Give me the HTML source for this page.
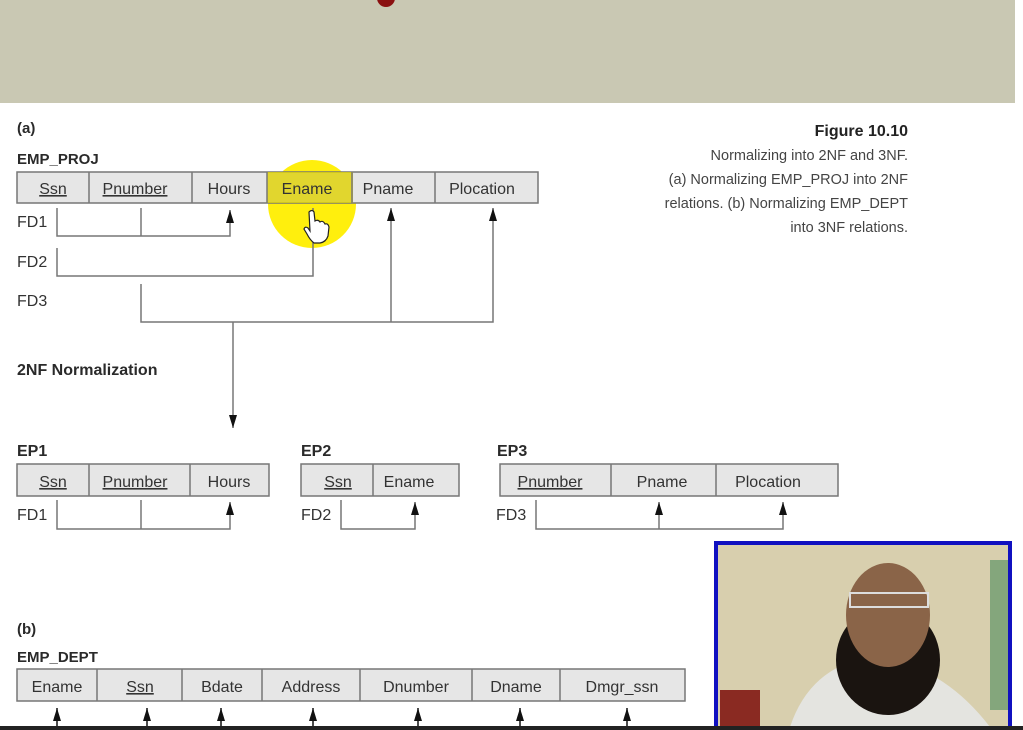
<!DOCTYPE html>
<html><head><style>
html,body{margin:0;padding:0;background:#fff;}
svg{display:block;}
text{font-family:"Liberation Sans",Arial,sans-serif;fill:#2a2a2a;}
.c{font-size:16px;text-anchor:middle;fill:#333;}
.b{font-weight:bold;font-size:16px;}
.fd{font-size:16px;fill:#333;}
.cap{font-size:14.5px;text-anchor:end;fill:#444;}
</style></head><body>
<svg width="1023" height="730" viewBox="0 0 1023 730">
<defs>
<marker id="ar" markerWidth="8" markerHeight="14" refX="4" refY="0" orient="0" markerUnits="userSpaceOnUse">
<path d="M0,13 L4,0 L8,13 Z" fill="#111"/></marker>
<marker id="dn" markerWidth="8" markerHeight="14" refX="4" refY="13" orient="0" markerUnits="userSpaceOnUse">
<path d="M0,0 L4,13 L8,0 Z" fill="#111"/></marker>
</defs>
<rect x="0" y="0" width="1023" height="103" fill="#c9c8b3"/>
<circle cx="386" cy="-2" r="9" fill="#8a1010"/>
<rect x="1015" y="0" width="8" height="730" fill="#fff"/>

<text x="17" y="133" class="b" style="font-size:15px">(a)</text>
<text x="17" y="164" class="b" style="font-size:15px">EMP_PROJ</text>

<circle cx="312" cy="204" r="44" fill="#ffee00" opacity="0.95"/>

<g stroke="#777" stroke-width="1.5" fill="#e6e6e6">
<rect x="17" y="172" width="521" height="31"/>
<rect x="17" y="464" width="252" height="32"/>
<rect x="301" y="464" width="158" height="32"/>
<rect x="500" y="464" width="338" height="32"/>
<rect x="17" y="669" width="668" height="32"/>
</g>
<rect x="267" y="172" width="86" height="31" fill="#e0d200" opacity="0.8"/>
<g stroke="#777" stroke-width="1.5">
<line x1="89" y1="172" x2="89" y2="203"/><line x1="192" y1="172" x2="192" y2="203"/>
<line x1="267" y1="172" x2="267" y2="203"/><line x1="352" y1="172" x2="352" y2="203"/>
<line x1="435" y1="172" x2="435" y2="203"/>
<line x1="89" y1="464" x2="89" y2="496"/><line x1="190" y1="464" x2="190" y2="496"/>
<line x1="373" y1="464" x2="373" y2="496"/>
<line x1="611" y1="464" x2="611" y2="496"/><line x1="716" y1="464" x2="716" y2="496"/>
<line x1="97" y1="669" x2="97" y2="701"/><line x1="182" y1="669" x2="182" y2="701"/>
<line x1="262" y1="669" x2="262" y2="701"/><line x1="360" y1="669" x2="360" y2="701"/>
<line x1="472" y1="669" x2="472" y2="701"/><line x1="560" y1="669" x2="560" y2="701"/>
</g>

<text x="53" y="194" class="c" text-decoration="underline">Ssn</text>
<text x="135" y="194" class="c" text-decoration="underline">Pnumber</text>
<text x="229" y="194" class="c">Hours</text>
<text x="307" y="194" class="c">Ename</text>
<text x="388" y="194" class="c">Pname</text>
<text x="482" y="194" class="c">Plocation</text>

<text x="17" y="227" class="fd">FD1</text>
<text x="17" y="267" class="fd">FD2</text>
<text x="17" y="306" class="fd">FD3</text>

<g stroke="#777" stroke-width="1.5" fill="none">
<polyline points="57,208 57,236 230,236 230,210" marker-end="url(#ar)"/>
<line x1="141" y1="208" x2="141" y2="236"/>
<polyline points="57,248 57,276 313,276 313,208"/>
<polyline points="141,284 141,322 493,322 493,208" marker-end="url(#ar)"/>
<line x1="391" y1="322" x2="391" y2="208" marker-end="url(#ar)"/>
<line x1="233" y1="322" x2="233" y2="428" marker-end="url(#dn)"/>
<polyline points="57,500 57,529 230,529 230,502" marker-end="url(#ar)"/>
<line x1="141" y1="500" x2="141" y2="529"/>
<polyline points="341,500 341,529 415,529 415,502" marker-end="url(#ar)"/>
<polyline points="536,500 536,529 783,529 783,502" marker-end="url(#ar)"/>
<line x1="659" y1="529" x2="659" y2="502" marker-end="url(#ar)"/>
</g>
<path d="M309,212 q3,-3 5,0 l1,9 q3,-2 5,1 q3,-2 5,2 q3,-1 4,3 l-1,9 q-2,6 -8,7 l-6,0 q-4,-3 -7,-9 l-3,-5 q1,-3 4,-1 l2,3 z" fill="#fff" stroke="#222" stroke-width="1.2"/>

<text x="17" y="375" class="b">2NF Normalization</text>

<text x="17" y="456" class="b">EP1</text>
<text x="301" y="456" class="b">EP2</text>
<text x="497" y="456" class="b">EP3</text>

<text x="53" y="487" class="c" text-decoration="underline">Ssn</text>
<text x="135" y="487" class="c" text-decoration="underline">Pnumber</text>
<text x="229" y="487" class="c">Hours</text>
<text x="338" y="487" class="c" text-decoration="underline">Ssn</text>
<text x="409" y="487" class="c">Ename</text>
<text x="550" y="487" class="c" text-decoration="underline">Pnumber</text>
<text x="662" y="487" class="c">Pname</text>
<text x="768" y="487" class="c">Plocation</text>

<text x="17" y="520" class="fd">FD1</text>
<text x="301" y="520" class="fd">FD2</text>
<text x="496" y="520" class="fd">FD3</text>

<text x="17" y="634" class="b" style="font-size:15px">(b)</text>
<text x="17" y="662" class="b" style="font-size:15px">EMP_DEPT</text>
<text x="57" y="692" class="c">Ename</text>
<text x="140" y="692" class="c" text-decoration="underline">Ssn</text>
<text x="222" y="692" class="c">Bdate</text>
<text x="311" y="692" class="c">Address</text>
<text x="416" y="692" class="c">Dnumber</text>
<text x="516" y="692" class="c">Dname</text>
<text x="622" y="692" class="c">Dmgr_ssn</text>
<g stroke="#111" stroke-width="1.5">
<line x1="57" y1="726" x2="57" y2="708" marker-end="url(#ar)"/>
<line x1="147" y1="726" x2="147" y2="708" marker-end="url(#ar)"/>
<line x1="221" y1="726" x2="221" y2="708" marker-end="url(#ar)"/>
<line x1="313" y1="726" x2="313" y2="708" marker-end="url(#ar)"/>
<line x1="418" y1="726" x2="418" y2="708" marker-end="url(#ar)"/>
<line x1="520" y1="726" x2="520" y2="708" marker-end="url(#ar)"/>
<line x1="627" y1="726" x2="627" y2="708" marker-end="url(#ar)"/>
</g>

<text x="908" y="136" class="cap" style="font-weight:bold;font-size:16px;fill:#222">Figure 10.10</text>
<text x="908" y="160" class="cap">Normalizing into 2NF and 3NF.</text>
<text x="908" y="184" class="cap">(a) Normalizing EMP_PROJ into 2NF</text>
<text x="908" y="208" class="cap">relations. (b) Normalizing EMP_DEPT</text>
<text x="908" y="232" class="cap">into 3NF relations.</text>

<rect x="716" y="543" width="294" height="186" fill="#d8cfae" stroke="#1010c0" stroke-width="4"/>
<rect x="720" y="690" width="40" height="37" fill="#8a2a22"/>
<path d="M790,727 q20,-60 80,-70 q70,5 120,70 z" fill="#e4e4e0"/>
<ellipse cx="888" cy="660" rx="52" ry="55" fill="#1a1410"/>
<ellipse cx="888" cy="615" rx="42" ry="52" fill="#8a6448"/>
<rect x="850" y="593" width="78" height="14" fill="none" stroke="#ddd" stroke-width="2"/>
<path d="M990,560 l18,0 l0,150 l-18,0 z" fill="#4d8a5a" opacity="0.6"/>
<rect x="0" y="726" width="1023" height="4" fill="#222"/>
</svg>
</body></html>
